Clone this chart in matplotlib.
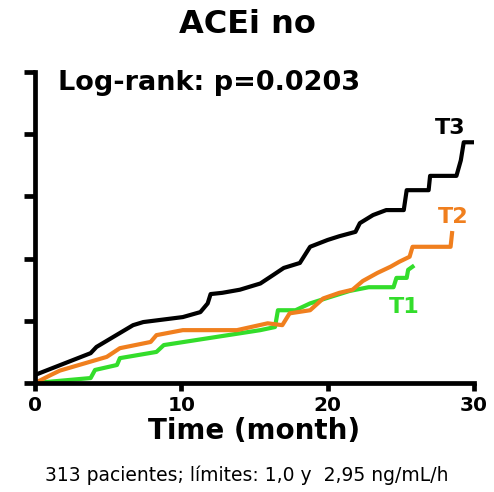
import numpy as np
import matplotlib.pyplot as plt

plt.rcParams['font.family'] = ['DejaVu Sans']

# cumulative incidence by tertile, traced as polylines (time in months)
t3_time = [0, 3.8, 4.2, 6.7, 7.4, 10.1, 11.3, 11.8, 12.0, 12.8, 14.0, 15.4, 16.3, 17.0, 18.1,
           18.8, 20.0, 20.8, 21.9, 22.2, 23.1, 24.0, 25.2, 25.4, 26.9, 27.0, 28.8, 29.1,
           29.3, 30.0]
t3_inc = [0.013, 0.048, 0.058, 0.093, 0.098, 0.106, 0.114, 0.128, 0.143, 0.145, 0.150, 0.160,
          0.174, 0.185, 0.193, 0.219, 0.230, 0.236, 0.243, 0.257, 0.270, 0.278, 0.278,
          0.310, 0.310, 0.333, 0.333, 0.358, 0.387, 0.387]

t2_time = [0, 1.0, 1.7, 4.9, 5.8, 7.9, 8.3, 10.1, 13.8, 15.9, 16.9, 17.4, 18.8, 19.7, 20.8,
           21.7, 22.4, 23.4, 24.3, 24.9, 25.6, 25.8, 28.4, 28.5]
t2_inc = [0.0, 0.012, 0.020, 0.042, 0.056, 0.066, 0.077, 0.085, 0.085, 0.096, 0.093, 0.112,
          0.117, 0.136, 0.145, 0.150, 0.164, 0.177, 0.187, 0.195, 0.203, 0.219, 0.219, 0.241]

t1_time = [0, 3.8, 4.1, 5.6, 5.8, 8.3, 8.8, 15.4, 16.4, 16.6, 17.8, 18.8, 20.0, 21.5, 22.8,
           24.5, 24.7, 25.4, 25.5, 25.8]
t1_inc = [0.0, 0.008, 0.021, 0.029, 0.040, 0.050, 0.061, 0.085, 0.090, 0.117, 0.117, 0.128,
          0.137, 0.148, 0.154, 0.154, 0.169, 0.169, 0.182, 0.187]

colors = {"T1": "#33dd2b", "T2": "#f07f1e", "T3": "black"}

fig = plt.figure(figsize=(4.94, 4.92), dpi=100)
ax = fig.add_axes([0.0709, 0.2215, 0.8886, 0.6322])

ax.plot(t1_time, t1_inc, color=colors["T1"], lw=3.0, solid_joinstyle='round')
ax.plot(t2_time, t2_inc, color=colors["T2"], lw=3.0, solid_joinstyle='round')
ax.plot(t3_time, t3_inc, color=colors["T3"], lw=3.0, solid_joinstyle='round')

ax.set_xlim(0, 30)
ax.set_ylim(0, 0.5)
ax.set_xticks([0, 10, 20, 30])
ax.set_yticks(np.arange(0, 0.51, 0.1))
ax.set_yticklabels([])
for s in ['top', 'right']:
    ax.spines[s].set_visible(False)
for s in ['left', 'bottom']:
    ax.spines[s].set_linewidth(3.4)
ax.tick_params(axis='x', width=3.4, length=6, direction='out', pad=3)
ax.tick_params(axis='y', width=3.4, length=8, direction='out')
for lab in ax.get_xticklabels():
    lab.set_fontsize(14.5)
    lab.set_fontweight('bold')
ax.set_xlabel("Time (month)", fontsize=20, fontweight='bold', labelpad=2)

ax.text(1.57, 0.482, "Log-rank: p=0.0203", fontsize=19.5, fontweight='bold', va='center')
ax.text(28.4, 0.41, "T3", fontsize=16, fontweight='bold', color=colors["T3"],
        ha='center', va='center')
ax.text(28.6, 0.267, "T2", fontsize=16, fontweight='bold', color=colors["T2"],
        ha='center', va='center')
ax.text(25.2, 0.123, "T1", fontsize=16, fontweight='bold', color=colors["T1"],
        ha='center', va='center')

fig.text(0.5, 0.951, "ACEi no", fontsize=23, fontweight='bold', ha='center', va='center')
fig.text(0.5, 0.035, "313 pacientes; límites: 1,0 y  2,95 ng/mL/h", fontsize=13.5,
         ha='center', va='center')

fig.savefig("out.png", dpi=100)
